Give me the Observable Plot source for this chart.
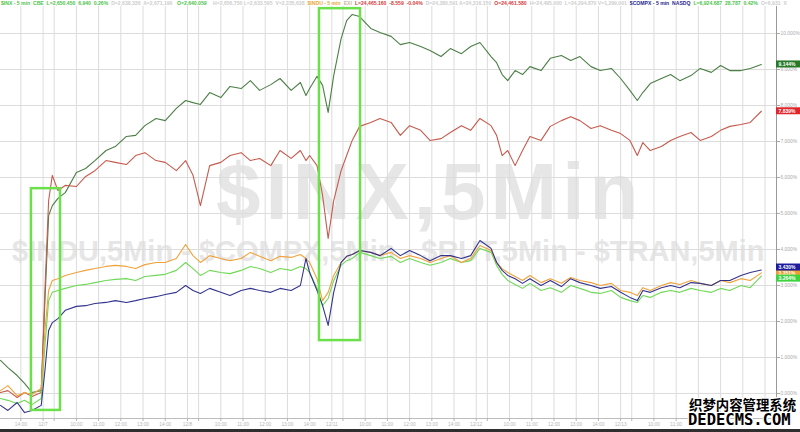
<!DOCTYPE html>
<html><head><meta charset="utf-8">
<script src="https://cdn.jsdelivr.net/npm/d3@7"></script>
<script src="https://cdn.jsdelivr.net/npm/@observablehq/plot@0.6"></script>
<style>
body{margin:0;background:#fff;}
#wrap{position:relative;width:800px;height:432px;overflow:hidden;font-family:"Liberation Sans",Arial,sans-serif;}
.wm{position:absolute;color:#e6e6e6;font-weight:bold;white-space:nowrap;line-height:1;}
#chart{position:absolute;left:0;top:0;}
#legend{position:absolute;left:0;top:0;width:800px;height:7px;font-size:5.1px;font-weight:bold;white-space:pre;line-height:6px;}
#legend span{position:absolute;top:0;}
.site{position:absolute;color:#000;font-weight:bold;white-space:nowrap;line-height:1;
 text-shadow:-1px -1px 0 #fff,1px -1px 0 #fff,-1px 1px 0 #fff,1px 1px 0 #fff,0 -1px 0 #fff,0 1px 0 #fff,-1px 0 0 #fff,1px 0 0 #fff;}
#bar{position:absolute;left:0;top:429px;width:800px;height:3px;background:#2f2f2f}
</style>
</head>
<body>
<div id="wrap">
  <div class="wm" style="left:216px;top:152px;font-size:80px;letter-spacing:5px;">$INX,5Min</div>
  <div class="wm" style="left:12px;top:237px;font-size:29px;">$INDU,5Min - $COMPX,5Min - $RUT,5Min - $TRAN,5Min</div>
  <div id="chart"></div>
  <div id="legend"></div>
  <div class="site" style="left:689px;top:398px;font-size:13.4px;font-family:'Noto Sans CJK SC',sans-serif;">织梦内容管理系统</div>
  <div class="site" style="left:688px;top:413px;font-size:15.5px;font-family:'DejaVu Sans Mono',monospace;">DEDECMS.COM</div>
  <div id="bar"></div>
</div>
<script>
// x: 5-minute bar index; values: % change
const bars = [0,4,9,13,17,22,24,26,28,31,35,41,46,51,57,62,68,73,78,84,89,95,100,104,108,113,119,124,130,135,140,146,151,157,162,165,167,171,174,177,180,184,187,190,194,200,205,211,216,221,227,232,238,243,249,254,259,265,268,271,274,278,282,286,292,297,303,308,313,319,324,330,335,340,344,347,351,357,362,367,373,378,384,389,394,400,405,411];

const rut = [0.92,0.72,0.50,0.28,0.03,0.08,2.58,4.94,5.22,5.42,
5.58,6.14,6.25,6.47,6.75,6.86,7.14,7.17,7.44,7.64,
7.58,7.92,8.14,8.08,8.03,8.36,8.22,8.53,8.47,8.69,
8.42,8.58,8.75,8.42,8.64,8.28,8.47,8.81,8.56,7.81,
8.83,9.86,10.36,10.53,10.47,10.14,10.03,9.92,9.69,9.75,
9.64,9.53,9.36,9.58,9.44,9.64,9.75,9.36,9.19,8.86,
8.69,8.97,8.86,9.08,8.97,9.31,9.39,9.25,9.36,9.08,
8.97,9.03,8.75,8.42,8.14,8.36,8.61,8.75,8.86,8.69,
8.83,9.03,8.92,9.11,8.97,8.97,9.03,9.14];

const tran = [0.03,0.08,-0.11,0.03,-0.08,0.03,2.86,5.36,6.06,5.64,
5.78,5.75,6.03,6.19,6.47,6.42,6.36,6.61,6.69,6.47,
6.42,6.19,6.47,6.06,5.22,6.33,6.42,6.61,6.69,6.47,
6.53,6.33,6.75,6.53,6.75,6.47,6.61,6.33,5.50,4.31,
5.36,6.19,6.61,7.03,7.42,7.53,7.64,7.53,7.17,7.44,
7.31,7.03,7.08,7.25,7.44,7.31,7.64,7.44,7.17,6.61,
6.75,6.33,6.75,7.14,7.03,7.42,7.58,7.69,7.58,7.36,
7.44,7.31,7.22,7.03,6.61,6.97,6.75,6.86,7.03,7.14,
7.25,7.03,7.14,7.31,7.42,7.47,7.53,7.84];

const inx = [-0.14,-0.19,-0.28,-0.19,-0.31,-0.14,1.33,2.58,2.81,2.86,
2.92,3.00,3.03,3.08,3.14,3.17,3.19,3.14,3.25,3.28,
3.31,3.42,3.64,3.47,3.28,3.42,3.36,3.33,3.42,3.53,
3.47,3.36,3.47,3.42,3.53,3.47,3.36,2.92,2.44,2.64,
3.14,3.56,3.69,3.75,3.92,3.83,3.75,3.81,3.64,3.75,
3.64,3.56,3.64,3.75,3.64,3.69,4.03,3.92,3.56,3.31,
3.14,3.03,2.92,3.06,2.86,2.94,2.81,3.00,2.92,2.81,
2.78,2.86,2.67,2.58,2.53,2.72,2.67,2.81,2.86,2.81,
2.92,2.86,2.81,2.92,2.86,3.00,2.94,3.26];

const indu = [0.08,0.22,-0.06,0.03,-0.03,0.14,1.75,2.86,3.14,3.19,
3.28,3.36,3.42,3.47,3.53,3.56,3.53,3.47,3.58,3.64,
3.64,3.75,4.14,3.83,3.64,3.83,3.75,3.69,3.75,3.92,
3.81,3.69,3.81,3.78,3.86,3.75,3.64,3.19,2.58,2.81,
3.28,3.64,3.81,3.86,3.97,3.92,3.83,3.92,3.75,3.83,
3.75,3.64,3.75,3.83,3.64,3.75,4.11,3.97,3.64,3.47,
3.36,3.25,3.14,3.28,3.08,3.19,3.06,3.22,3.14,3.08,
3.00,3.06,2.86,2.81,2.72,2.94,2.86,3.00,3.08,3.03,
3.14,3.06,3.00,3.14,3.08,3.19,3.14,3.35];

const compx = [-0.33,-0.47,-0.25,-0.53,-0.47,-0.33,0.64,1.75,1.97,2.08,
2.31,2.42,2.44,2.50,2.53,2.58,2.53,2.58,2.64,2.69,
2.75,2.81,3.00,2.86,2.78,2.92,2.81,2.72,2.86,2.92,
2.86,2.81,2.92,2.86,3.00,3.75,3.36,2.86,2.44,1.89,
2.81,3.64,3.81,3.86,3.97,3.92,3.83,4.03,3.83,3.97,
3.83,3.69,3.83,3.83,3.75,3.83,4.25,4.03,3.64,3.42,
3.28,3.19,3.06,3.19,3.00,3.14,2.97,3.19,3.08,3.00,
2.92,2.97,2.81,2.67,2.58,2.86,2.81,2.94,3.00,2.94,
3.08,3.06,3.00,3.14,3.14,3.28,3.36,3.43];

const seriesNames  = ["$RUT", "$TRAN", "$INX", "$INDU", "$COMPX"];
const seriesValues = [rut, tran, inx, indu, compx];
const seriesColors = ["#4b7f46", "#c65b4d", "#6fd957", "#f0a23c", "#34348f"];
const endTexts     = ["9.144%", "7.839%", "3.264%", "3.351%", "3.430%"];
const endColors    = ["#277a27", "#e1262b", "#3fd43f", "#f0a030", "#1d1d9e"];
// stacking nudge (px, + = down) for the crowded end labels, as in the reference
const endNudge     = [0, 0, 2.5, 0, -2.5];
const endOrder     = [0, 1, 3, 4, 2];

const yTicks = [0,1,2,3,4,5,6,7,8,9,10];
const xTicks = [11,23,29,41,53,65,77,89,101,107,119,131,143,155,167,179,185,197,209,221,233,245,257,263,275,287,299,311,323,335,341,353,365,377,389,401,413];
// labels hidden under the site watermark in the reference are left blank
const xTickLabels = ["14:00","12/7","","10:00","11:00","12:00","13:00","14:00",
 "12/8","","10:00","11:00","12:00","13:00","14:00",
 "12/11","","10:00","11:00","12:00","13:00","14:00",
 "12/12","","10:00","11:00","12:00","13:00","14:00",
 "12/13","","10:00","11:00","","","",""];

// highlight boxes (bar range, % range)
const boxX1 = [16.7, 172.3];
const boxX2 = [32.4, 194.5];
const boxY1 = [-0.47, 1.47];
const boxY2 = [5.69, 10.69];

const legendTexts = [
 "$INX - 5 min  CBE  L=2,650.450  6.940  0.26%",
 "D=2,638.336  A=2,671.190",
 "O=2,640.059",
 "H=2,656.750 L=2,633.595",
 "V=2,235,638",
 "$INDU - 5 min",
 "EXI",
 "L=24,465.160  -8.559  -0.04%",
 "D=24,380.591 A=24,316.150",
 "O=24,461.580",
 "H=24,495.000",
 "L=24,294.870 V=1,299,001",
 "$COMPX - 5 min  NASDQ",
 "L=6,924.687  28.787  0.42%",
 "O=6,931  X"
];
const legendColors = ["#4cc44c","#cdcdcd","#4cc44c","#cdcdcd","#cdcdcd","#e8a63a","#cdb89a","#d23a3a","#cdcdcd","#d23a3a","#cdcdcd","#cdcdcd","#26268f","#4cc44c","#cdcdcd"];
// layout only: preferred left offsets of legend segments (px)
const legendLeft = [1, 108, 177, 213, 268, 300, 337, 348, 410, 467, 502, 540, 618, 672, 712];

const xDomain = [0, 419.2];
const yDomain = [-0.6944, 10.75];

const labelMap = new Map(xTicks.map((t, i) => [t, xTickLabels[i]]));
const boxes = boxX1.map((d, i) => ({x1: d, x2: boxX2[i], y1: boxY1[i], y2: boxY2[i]}));

const lineMarks = seriesNames.map((name, s) =>
  Plot.line(bars.map((b, i) => ({bar: b, value: seriesValues[s][i]})),
    {x: "bar", y: "value", stroke: seriesColors[s], strokeWidth: 1.1}));

const endMarks = endOrder.flatMap(s => {
  const row = [{bar: xDomain[1], value: seriesValues[s][seriesValues[s].length - 1], text: endTexts[s]}];
  const n = endNudge[s];
  return [
    Plot.rect(row, {x1: "bar", x2: "bar", y1: "value", y2: "value", fill: endColors[s],
      insetRight: -24, insetTop: -3.5 + n, insetBottom: -3.5 - n}),
    Plot.text(row, {x: "bar", y: "value", text: "text", fill: "white", textAnchor: "start",
      dx: 2, dy: n, fontSize: 5, fontWeight: "bold"})
  ];
});

const chart = Plot.plot({
  width: 800, height: 429,
  marginTop: 6, marginRight: 24, marginBottom: 11, marginLeft: 0,
  style: {background: "transparent", fontFamily: "Liberation Sans, Arial, sans-serif", overflow: "visible"},
  x: {domain: xDomain},
  y: {domain: yDomain},
  marks: [
    Plot.gridY(yTicks, {stroke: "#dcdcdc", strokeOpacity: 1}),
    Plot.gridX(xTicks, {stroke: "#dcdcdc", strokeOpacity: 1}),
    Plot.ruleY([yDomain[0]], {stroke: "#bdbdbd"}),
    Plot.ruleX([xDomain[1]], {stroke: "#9a9a9a"}),
    Plot.axisX(xTicks, {tickSize: 3, tickPadding: 1, tickFormat: d => labelMap.get(d), fontSize: 4.8, color: "#b5b5b5", label: null}),
    Plot.axisY(yTicks, {anchor: "right", tickSize: 3, tickPadding: 1, tickFormat: d => d.toFixed(3) + "%", fontSize: 4.9, color: "#aaaaaa", label: null}),
    ...lineMarks,
    Plot.rect(boxes, {x1: "x1", x2: "x2", y1: "y1", y2: "y2", fill: "none", stroke: "#6be04a", strokeWidth: 2.5}),
    ...endMarks
  ]
});
document.getElementById("chart").appendChild(chart);

const legend = document.getElementById("legend");
let prevRight = -Infinity;
legendTexts.forEach((t, i) => {
  const s = document.createElement("span");
  s.textContent = t;
  s.style.color = legendColors[i];
  legend.appendChild(s);
  const left = Math.max(legendLeft[i], prevRight + 3);
  s.style.left = left + "px";
  prevRight = left + s.getBoundingClientRect().width;
});
</script>
</body></html>
